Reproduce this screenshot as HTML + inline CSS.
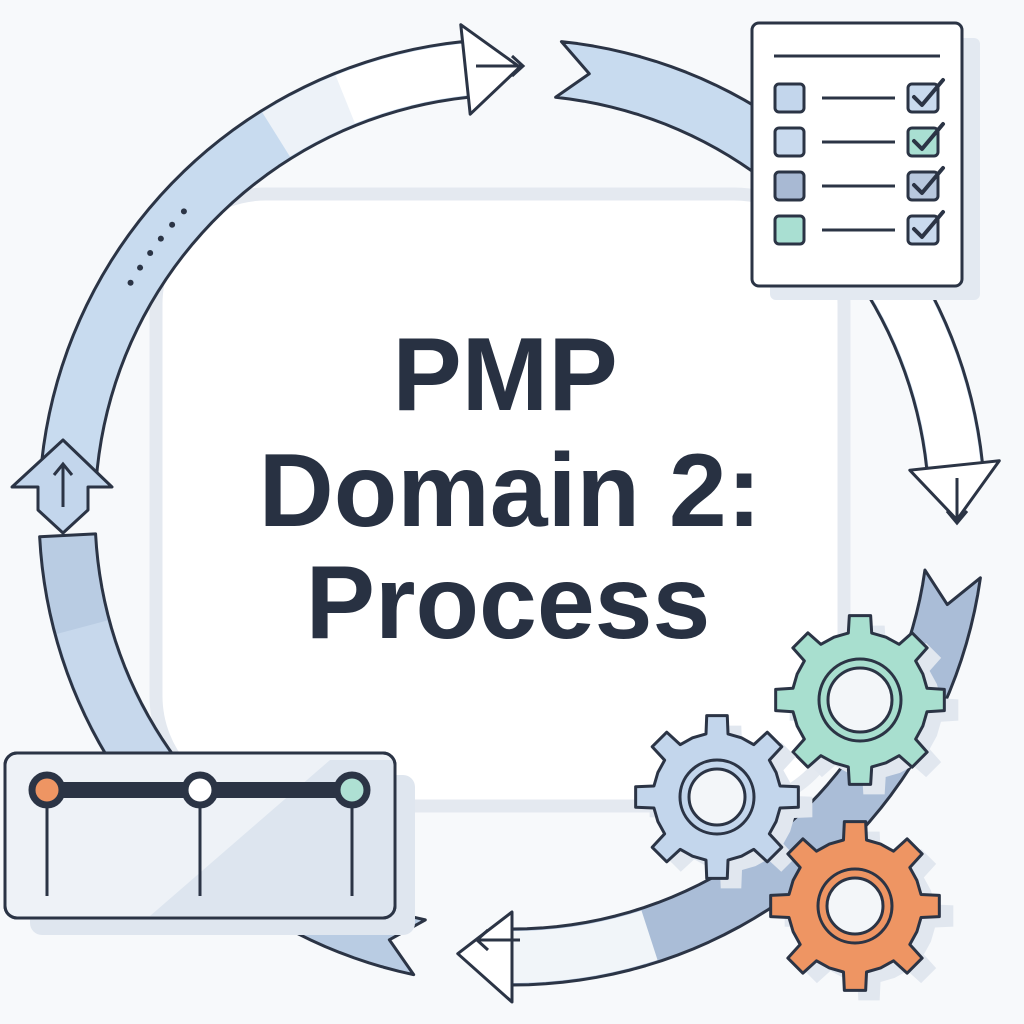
<!DOCTYPE html>
<html><head><meta charset="utf-8"><style>
html,body{margin:0;padding:0;background:#f7f9fb;}
svg{display:block}
</style></head><body>
<svg id="s" width="1024" height="1024" viewBox="0 0 1024 1024" xmlns="http://www.w3.org/2000/svg">
<rect width="1024" height="1024" fill="#f7f9fb"/>
<rect x="156" y="194" width="688" height="612" rx="110" fill="#ffffff" stroke="#e4e9f0" stroke-width="13"/>
<g id="bands"></g>
<text x="505" y="410" font-family="Liberation Sans, sans-serif" font-weight="bold" font-size="104" fill="#283142" text-anchor="middle">PMP</text>
<text x="510" y="526" font-family="Liberation Sans, sans-serif" font-weight="bold" font-size="104" fill="#283142" text-anchor="middle">Domain 2:</text>
<text x="508" y="638" font-family="Liberation Sans, sans-serif" font-weight="bold" font-size="104" fill="#283142" text-anchor="middle">Process</text>
<polygon points="63,440 112,487 88,487 88,510 63,533 38,510 38,487 12,487" fill="#c3d6ec" stroke="#2b3445" stroke-width="3" stroke-linejoin="round"/>
<line x1="63" y1="507" x2="63" y2="466" stroke="#2b3445" stroke-width="3"/>
<polyline points="54,475 63,464 72,475" fill="none" stroke="#2b3445" stroke-width="3"/>
<rect x="770" y="38" width="210" height="262" rx="6" fill="#e3e9f1"/>
<rect x="752" y="23" width="210" height="263" rx="7" fill="#ffffff" stroke="#2b3445" stroke-width="3"/>
<line x1="774" y1="56" x2="940" y2="56" stroke="#2b3445" stroke-width="3"/>
<g stroke="#2b3445" stroke-width="3">
<rect x="775" y="84" width="29" height="28" rx="4" fill="#c3d6ec"/>
<rect x="775" y="128" width="29" height="28" rx="4" fill="#c9daee"/>
<rect x="775" y="172" width="29" height="28" rx="4" fill="#a8b9d3"/>
<rect x="775" y="216" width="29" height="28" rx="4" fill="#a9dfd2"/>
<line x1="822" y1="98" x2="895" y2="98"/><line x1="822" y1="142" x2="895" y2="142"/>
<line x1="822" y1="186" x2="895" y2="186"/><line x1="822" y1="230" x2="895" y2="230"/>
<rect x="908" y="84" width="30" height="28" rx="4" fill="#c9daee"/>
<rect x="908" y="128" width="30" height="28" rx="4" fill="#a9dfd2"/>
<rect x="908" y="172" width="30" height="28" rx="4" fill="#b8c8de"/>
<rect x="908" y="216" width="30" height="28" rx="4" fill="#c9daee"/>
</g>
<g fill="none" stroke="#2b3445" stroke-width="4" stroke-linecap="round" stroke-linejoin="round">
<polyline points="914,97 922,105 943,80"/><polyline points="914,141 922,149 943,124"/>
<polyline points="914,185 922,193 943,168"/><polyline points="914,229 922,237 943,212"/>
</g>
<rect x="30" y="775" width="385" height="160" rx="12" fill="#dfe6ef"/>
<rect x="5" y="753" width="390" height="165" rx="12" fill="#eef2f7" stroke="#2b3445" stroke-width="3"/>
<polygon points="150,916 330,760 393,760 393,916" fill="#dde5ef"/>
<rect x="5" y="753" width="390" height="165" rx="12" fill="none" stroke="#2b3445" stroke-width="3"/>
<line x1="47" y1="790" x2="352" y2="790" stroke="#2b3445" stroke-width="16"/>
<g stroke="#2b3445" stroke-width="3"><line x1="47" y1="800" x2="47" y2="896"/><line x1="200" y1="800" x2="200" y2="896"/><line x1="352" y1="800" x2="352" y2="896"/></g>
<circle cx="47" cy="790" r="15" fill="#ee9563" stroke="#2b3445" stroke-width="7"/>
<circle cx="200" cy="790" r="15" fill="#ffffff" stroke="#2b3445" stroke-width="7"/>
<circle cx="352" cy="790" r="15" fill="#aee0d3" stroke="#2b3445" stroke-width="7"/>
<g id="gears"></g>
</svg>
<script>
var NS="http://www.w3.org/2000/svg",cx=512,cy=512,R=445,W=56;
function P(r,a){a=a*Math.PI/180;return [cx+r*Math.cos(a),cy+r*Math.sin(a)];}
function add(par,tag,at){var e=document.createElementNS(NS,tag);for(var k in at)e.setAttribute(k,at[k]);document.getElementById(par).appendChild(e);return e;}
function arcPts(r,a1,a2){var p=[],n=40;for(var i=0;i<=n;i++)p.push(P(r,a1+(a2-a1)*i/n));return p;}
function band(a1,a2,fill,notch){
 var pts=arcPts(R+W/2,a1,a2).concat(arcPts(R-W/2,a2,a1));
 if(notch)pts.push(P(R,a1+4));
 add("bands","polygon",{points:pts.map(function(p){return p.join(",")}).join(" "),fill:fill,stroke:"#2b3445","stroke-width":3,"stroke-linejoin":"round"});
}
function fillOnly(a1,a2,fill){var pts=arcPts(R+W/2-2,a1,a2).concat(arcPts(R-W/2+2,a2,a1));
 add("bands","polygon",{points:pts.map(function(p){return p.join(",")}).join(" "),fill:fill});}
function head(a,dir,fill){
 var b1=P(R+W/2,a),w1=P(R+W/2+17,a),t=P(R,a+dir*7),w2=P(R-W/2-17,a),b2=P(R-W/2,a);
 add("bands","polygon",{points:[b1,w1,t,w2,b2].map(function(p){return p.join(",")}).join(" "),fill:fill,stroke:"#2b3445","stroke-width":3,"stroke-linejoin":"round"});
}
band(184,264,"#c8dbef",true);
fillOnly(240,264,"#ffffff");fillOnly(238,248,"#edf2f8");
head(264,1,"#ffffff");
for(var i=0;i<6;i++){var p=P(R,211+i*2.3);add("bands","circle",{cx:p[0],cy:p[1],r:3,fill:"#2b3445"});}
band(276,354,"#c8dbef",true);
fillOnly(318,354,"#ffffff");
head(354,1,"#ffffff");
band(8,90,"#aabdd7",true);
fillOnly(72,90,"#f1f5f9");
head(90,1,"#ffffff");
band(102,177,"#b9cce3",true);
fillOnly(140,165,"#c7d8ec");
function sarrow(x1,y1,x2,y2){add("bands","line",{x1:x1,y1:y1,x2:x2,y2:y2,stroke:"#2b3445","stroke-width":3});}
sarrow(476,66,522,66);add("bands","polyline",{points:"512,56 523,66 512,76",fill:"none",stroke:"#2b3445","stroke-width":3});
sarrow(957,478,957,522);add("bands","polyline",{points:"947,511 957,523 967,511",fill:"none",stroke:"#2b3445","stroke-width":3});
sarrow(520,940,478,940);add("bands","polyline",{points:"488,930 477,940 488,950",fill:"none",stroke:"#2b3445","stroke-width":3});
function gear(x,y,ro,ri,n,fill,hole){
 var pts=[],step=360/n;
 for(var i=0;i<n;i++){var a=i*step-90;
  [[a-step*0.5,ri],[a-step*0.22,ri],[a-step*0.16,ro],[a+step*0.16,ro],[a+step*0.22,ri]].forEach(function(q){var t=q[0]*Math.PI/180;pts.push([x+q[1]*Math.cos(t),y+q[1]*Math.sin(t)]);});}
 add("gears","polygon",{points:pts.map(function(p){return p.join(",")}).join(" "),fill:"#e1e7ef",transform:"translate(14,10)"});
 add("gears","polygon",{points:pts.map(function(p){return p.join(",")}).join(" "),fill:fill,stroke:"#2b3445","stroke-width":3,"stroke-linejoin":"round"});
 add("gears","circle",{cx:x,cy:y,r:hole+9,fill:"none",stroke:"#2b3445","stroke-width":3});
 add("gears","circle",{cx:x,cy:y,r:hole,fill:"#f3f6f9",stroke:"#2b3445","stroke-width":3});
}
gear(860,700,85,68,8,"#a8dfcf",32);
gear(717,797,82,64,8,"#c3d6ec",28);
gear(855,906,85,67,8,"#ee9563",28);
</script>
</body></html>
